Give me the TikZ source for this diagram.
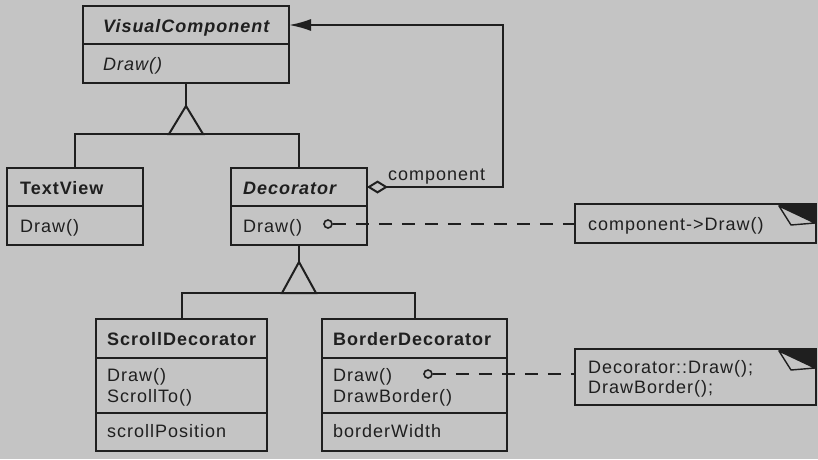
\documentclass[tikz,border=0pt]{standalone}
\usepackage{fontspec}
\setmainfont{Liberation Sans}[LetterSpace=5.5]
\usetikzlibrary{arrows.meta}
\definecolor{bg}{gray}{0.77}
\definecolor{ink}{gray}{0.12}
\tikzset{
 box/.style={draw=ink, line width=2pt, inner sep=0pt, outer sep=0pt, anchor=north west, fill=bg},
 lbl/.style={anchor=base west, inner sep=0pt, text=ink, font=\fontsize{18}{20}\selectfont},
 wire/.style={draw=ink, line width=2pt},
 dashwire/.style={draw=ink, line width=2pt, dash pattern=on 13pt off 10pt},
 gen/.style={draw=ink, line width=2pt, fill=bg, line join=miter},
 fold/.style={draw=ink, line width=1.4pt, fill=bg, line join=round},
 pin/.style={circle, draw=ink, line width=1.6pt, minimum size=8pt, inner sep=0pt, fill=bg},
}
\begin{document}
\begin{tikzpicture}[x=1pt,y=-1pt]
\fill[bg] (0,0) rectangle (818,459);
\useasboundingbox (0,0) rectangle (818,459);

% VisualComponent
\node[box, minimum width=206pt, minimum height=38pt] (vcN) at (83,6) {};
\node[box, minimum width=206pt, minimum height=39pt] (vcO) at (vcN.south west) {};
\node[lbl] (vcNt) at (103,32) {\bfseries\itshape VisualComponent};
\node[lbl] (vcOt) at (103,70) {\itshape Draw()};

% TextView
\node[box, minimum width=136pt, minimum height=38pt] (tvN) at (7,168) {};
\node[box, minimum width=136pt, minimum height=39pt] (tvO) at (tvN.south west) {};
\node[lbl] (tvNt) at (20,194) {\bfseries TextView};
\node[lbl] (tvOt) at (20,232) {Draw()};

% Decorator
\node[box, minimum width=136pt, minimum height=38pt] (decN) at (231,168) {};
\node[box, minimum width=136pt, minimum height=39pt] (decO) at (decN.south west) {};
\node[lbl] (decNt) at (243,194) {\bfseries\itshape Decorator};
\node[lbl] (decOt) at (243,232) {Draw()};

% ScrollDecorator
\node[box, minimum width=171pt, minimum height=39pt] (sdN) at (96,319) {};
\node[box, minimum width=171pt, minimum height=55pt] (sdO) at (sdN.south west) {};
\node[box, minimum width=171pt, minimum height=38pt] (sdA) at (sdO.south west) {};
\node[lbl] (sdNt) at (107,345) {\bfseries ScrollDecorator};
\node[lbl] (sdO1) at (107,381) {Draw()};
\node[lbl] (sdO2) at (107,402) {ScrollTo()};
\node[lbl] (sdAt) at (107,437) {scrollPosition};

% BorderDecorator
\node[box, minimum width=185pt, minimum height=39pt] (bdN) at (322,319) {};
\node[box, minimum width=185pt, minimum height=55pt] (bdO) at (bdN.south west) {};
\node[box, minimum width=185pt, minimum height=38pt] (bdA) at (bdO.south west) {};
\node[lbl] (bdNt) at (333,345) {\bfseries BorderDecorator};
\node[lbl] (bdO1) at (333,381) {Draw()};
\node[lbl] (bdO2) at (333,402) {DrawBorder()};
\node[lbl] (bdAt) at (333,437) {borderWidth};

% Notes
\node[box, minimum width=241pt, minimum height=39pt] (n1) at (575,204) {};
\node[lbl] (n1t) at (588,230) {component->Draw()};
\fill[ink] (776,204) -- (n1.north east) -- (816,224) -- cycle;
\draw[fold] (779,206) -- (791,225) -- (815,223) -- cycle;

\node[box, minimum width=241pt, minimum height=56pt] (n2) at (575,349) {};
\node[lbl] (n2t1) at (588,373) {Decorator::Draw();};
\node[lbl] (n2t2) at (588,393) {DrawBorder();};
\fill[ink] (776,349) -- (n2.north east) -- (816,369) -- cycle;
\draw[fold] (779,351) -- (791,370) -- (815,368) -- cycle;

% Generalisation 1
\coordinate (t1) at (186,106);
\coordinate (b1) at (186,134);
\draw[wire] (vcO.south) -- (t1);
\draw[wire] (tvN.north) |- (b1) -| (decN.north);
\draw[gen] (t1) -- ++(-17,28) -- ++(34,0) -- cycle;

% Generalisation 2
\coordinate (t2) at (299,262);
\coordinate (b2) at (299,293);
\draw[wire] (decO.south) -- (t2);
\draw[wire] (sdN.north) |- (b2) -| (bdN.north);
\draw[gen] (t2) -- ++(-17,31) -- ++(34,0) -- cycle;

% Aggregation
\coordinate (aggc) at (503,100);
\draw[wire, {Diamond[open,length=21pt,width=13pt,line width=2pt]}-{Latex[length=22pt,width=12pt]}]
  (decN.east) -| (aggc) |- (vcN.east);
\node[lbl] (aggl) at (388,180) {component};

% Note connectors
\node[pin] (c1) at (328,224) {};
\draw[dashwire] (c1.east) -- (c1.east -| n1.west);
\node[pin] (c2) at (428,374) {};
\draw[dashwire] (c2.east) -- (c2.east -| n2.west);
\end{tikzpicture}
\end{document}
